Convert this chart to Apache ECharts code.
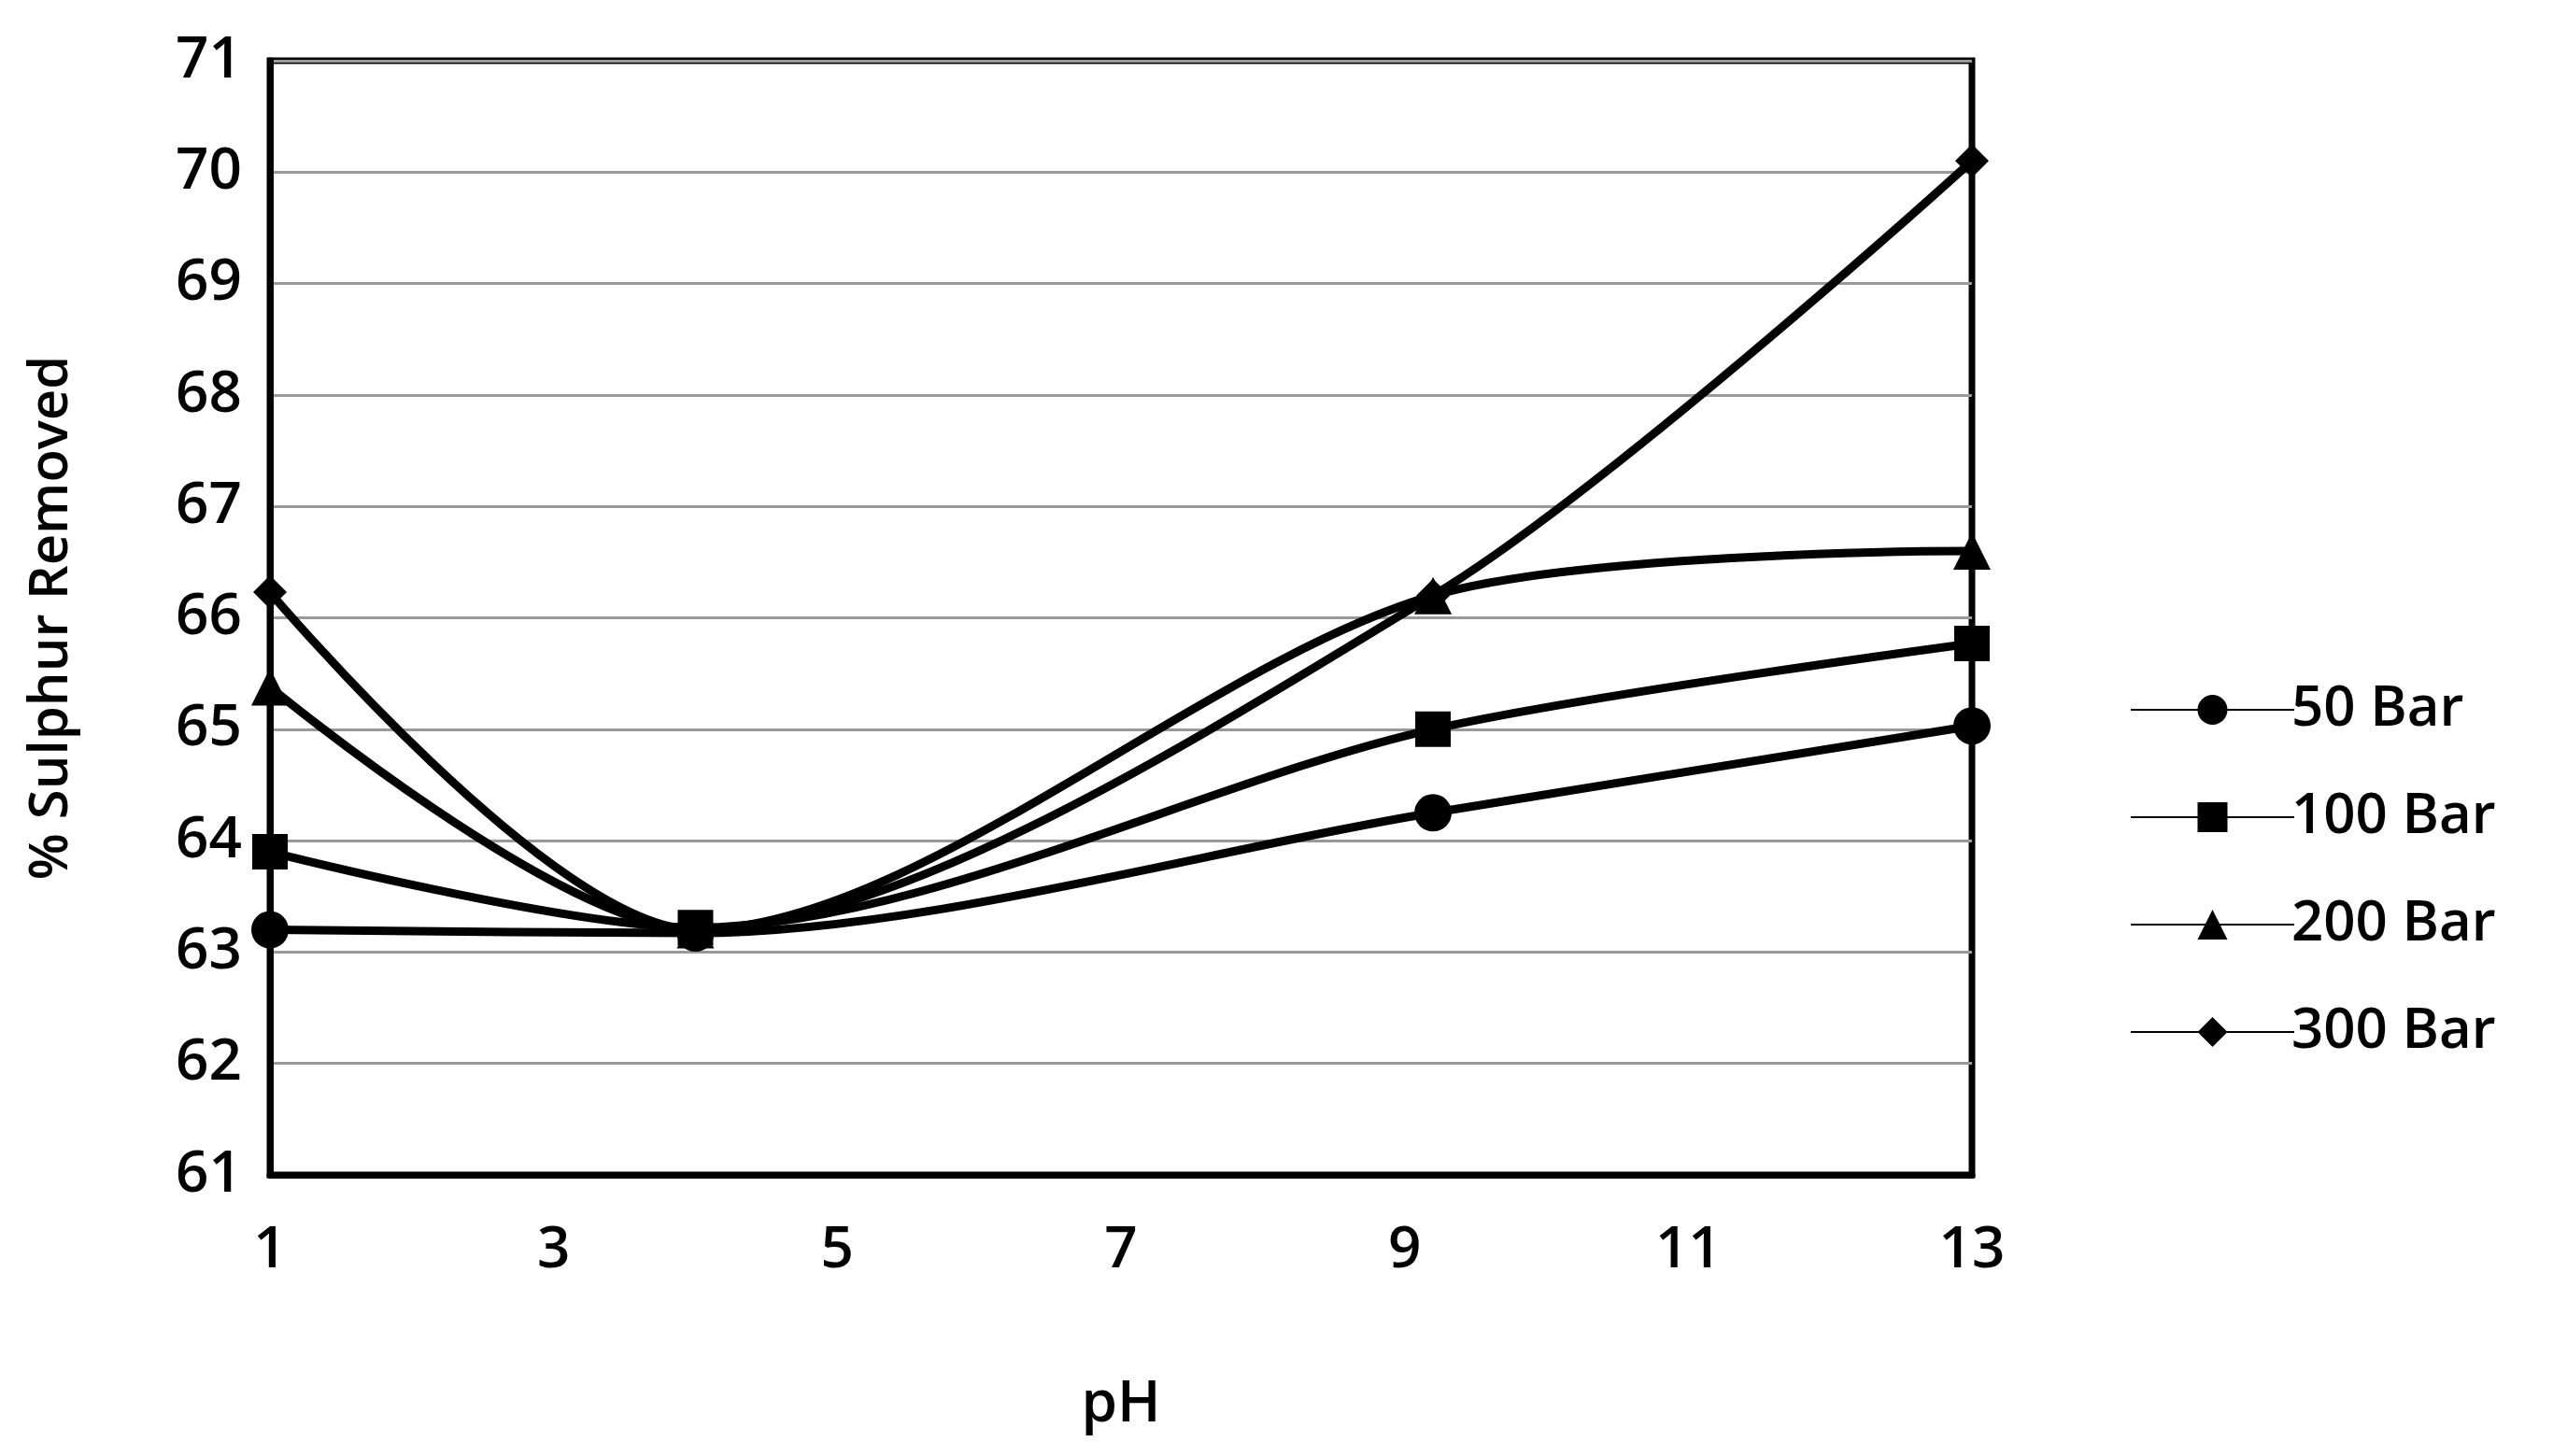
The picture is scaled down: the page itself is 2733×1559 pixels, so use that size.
<!DOCTYPE html>
<html>
<head>
<meta charset="utf-8" />
<script src="https://cdn.jsdelivr.net/npm/echarts@6/dist/echarts.min.js"></script>
<style>
  * { margin: 0; padding: 0; }
  body { background: #fff; }
</style>
</head>
<body>
<div id="main" style="width: 2733px; height: 1559px;"></div>
<script>
  // 数据
  const phValues = [1, 4, 9.2, 13];
  const bar50 = [63.2, 63.17, 64.25, 65.03];
  const bar100 = [63.9, 63.22, 65.0, 65.77];
  const bar200 = [65.38, 63.2, 66.2, 66.6];
  const bar300 = [66.23, 63.2, 66.2, 70.1];
  const seriesNames = ["50 Bar", "100 Bar", "200 Bar", "300 Bar"];
  const symbols = ["circle", "rect", "triangle", "diamond"];
  const symbolSizes = [40, 38, 40, 36];

  const font = "'Open Sans', sans-serif";
  let myChart = echarts.init(document.getElementById("main"));

  let all = [bar50, bar100, bar200, bar300];
  let series = all.map(function (vals, i) {
    return {
      name: seriesNames[i],
      type: "line",
      smooth: 0.3,
      data: phValues.map((x, j) => [x, vals[j]]),
      symbol: symbols[i],
      symbolSize: symbolSizes[i],
      lineStyle: { color: "#000", width: 9 },
      itemStyle: { color: "#000" }
    };
  });

  let option = {
    animation: false,
    grid: { left: 289, right: 622, top: 65, bottom: 301, show: true, borderColor: "#000", borderWidth: 7 },
    legend: {
      orient: "vertical",
      left: 2275,
      top: 725,
      itemWidth: 175,
      itemHeight: 40,
      itemGap: 55,
      textStyle: { fontSize: 60, fontFamily: font, fontWeight: 600, color: "#000", padding: [0, 0, 0, -8] },
      data: seriesNames
    },
    xAxis: {
      type: "value",
      min: 1, max: 13, interval: 2,
      name: "pH", nameLocation: "middle", nameGap: 215,
      nameTextStyle: { fontSize: 62, fontFamily: font, fontWeight: 600, color: "#000" },
      axisLine: { show: true, lineStyle: { color: "#000", width: 7 } },
      axisTick: { show: false },
      splitLine: { show: false },
      axisLabel: { fontSize: 62, fontFamily: font, fontWeight: 600, color: "#000", margin: 50 }
    },
    yAxis: {
      type: "value",
      min: 61, max: 71, interval: 1,
      name: "% Sulphur Removed", nameLocation: "middle", nameGap: 205,
      nameTextStyle: { fontSize: 58, fontFamily: font, fontWeight: 600, color: "#000" },
      axisLine: { show: true, lineStyle: { color: "#000", width: 7 } },
      axisTick: { show: false },
      splitLine: { lineStyle: { color: "#999", width: 3 } },
      axisLabel: { fontSize: 62, fontFamily: font, fontWeight: 600, color: "#000", margin: 30 }
    },
    series: series
  };
  myChart.setOption(option);
</script>
</body>
</html>
